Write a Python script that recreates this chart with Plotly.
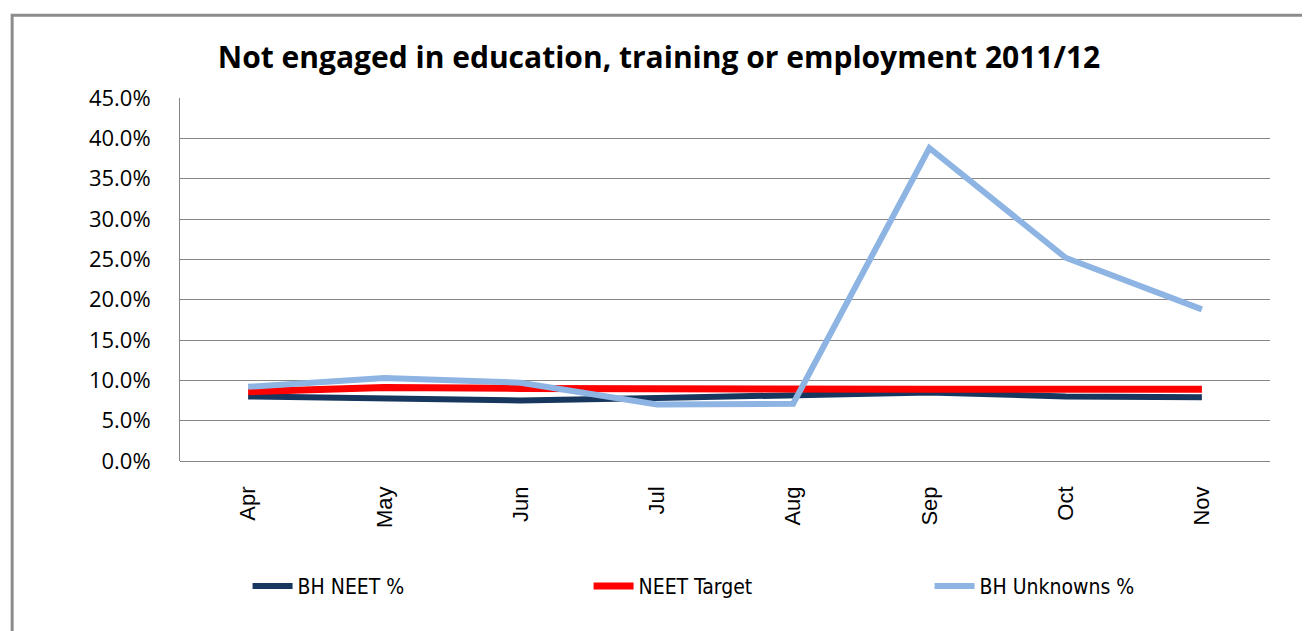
import plotly.graph_objects as go

months = ["Apr", "May", "Jun", "Jul", "Aug", "Sep", "Oct", "Nov"]
bh_neet = [8.0, 7.7, 7.5, 7.8, 8.1, 8.5, 8.0, 7.9]
neet_target = [8.6, 9.1, 9.0, 8.9, 8.9, 8.9, 8.9, 8.9]
bh_unknowns = [9.2, 10.3, 9.7, 7.0, 7.1, 38.8, 25.2, 18.8]
y_ticks = [0, 5, 10, 15, 20, 25, 30, 35, 40, 45]

fig = go.Figure()

fig.add_trace(
    go.Scatter(
        x=months, y=bh_neet, name="BH NEET %", mode="lines",
        line=dict(color="#17375E", width=6)
    )
)
fig.add_trace(
    go.Scatter(
        x=months, y=neet_target, name="NEET Target", mode="lines",
        line=dict(color="#FF0000", width=7)
    )
)
fig.add_trace(
    go.Scatter(
        x=months, y=bh_unknowns, name="BH Unknowns %", mode="lines",
        line=dict(color="#8DB4E2", width=6)
    )
)

# outer chart border
fig.add_shape(
    type="rect", xref="paper", yref="paper",
    x0=-0.154, x1=1.05, y0=-0.5, y1=1.228,
    line=dict(color="#8C8C8C", width=3), layer="below"
)

fig.update_layout(
    width=1302,
    height=623,
    margin=dict(l=172, r=40, t=90, b=170),
    paper_bgcolor="white",
    plot_bgcolor="white",
    title=dict(
        text="<b>Not engaged in education, training or employment 2011/12</b>",
        x=0.5, xanchor="center", y=0.92, yanchor="middle",
        font=dict(family="Open Sans", size=30, color="black")
    ),
    xaxis=dict(
        type="category",
        tickangle=-90,
        showgrid=False,
        showline=False,
        ticks="",
        ticklabelstandoff=20,
        tickfont=dict(family="Liberation Sans", size=22, color="black"),
        range=[-0.5, 7.5]
    ),
    yaxis=dict(
        range=[0, 45],
        tickvals=y_ticks,
        ticktext=[f"{v:.1f}%" for v in y_ticks],
        showgrid=True,
        gridcolor="#868686",
        gridwidth=1,
        showline=True,
        linecolor="#868686",
        linewidth=1,
        zeroline=True,
        zerolinecolor="#868686",
        zerolinewidth=1,
        ticks="",
        ticklabelstandoff=24,
        tickfont=dict(family="Open Sans", size=22, color="black")
    ),
    legend=dict(
        orientation="h",
        x=0.062, xanchor="left",
        y=-0.345, yanchor="middle",
        entrywidth=286, entrywidthmode="pixels",
        font=dict(family="DejaVu Sans Condensed", size=21, color="black"),
        itemwidth=40
    ),
    showlegend=True
)

fig.write_html("out.html")
